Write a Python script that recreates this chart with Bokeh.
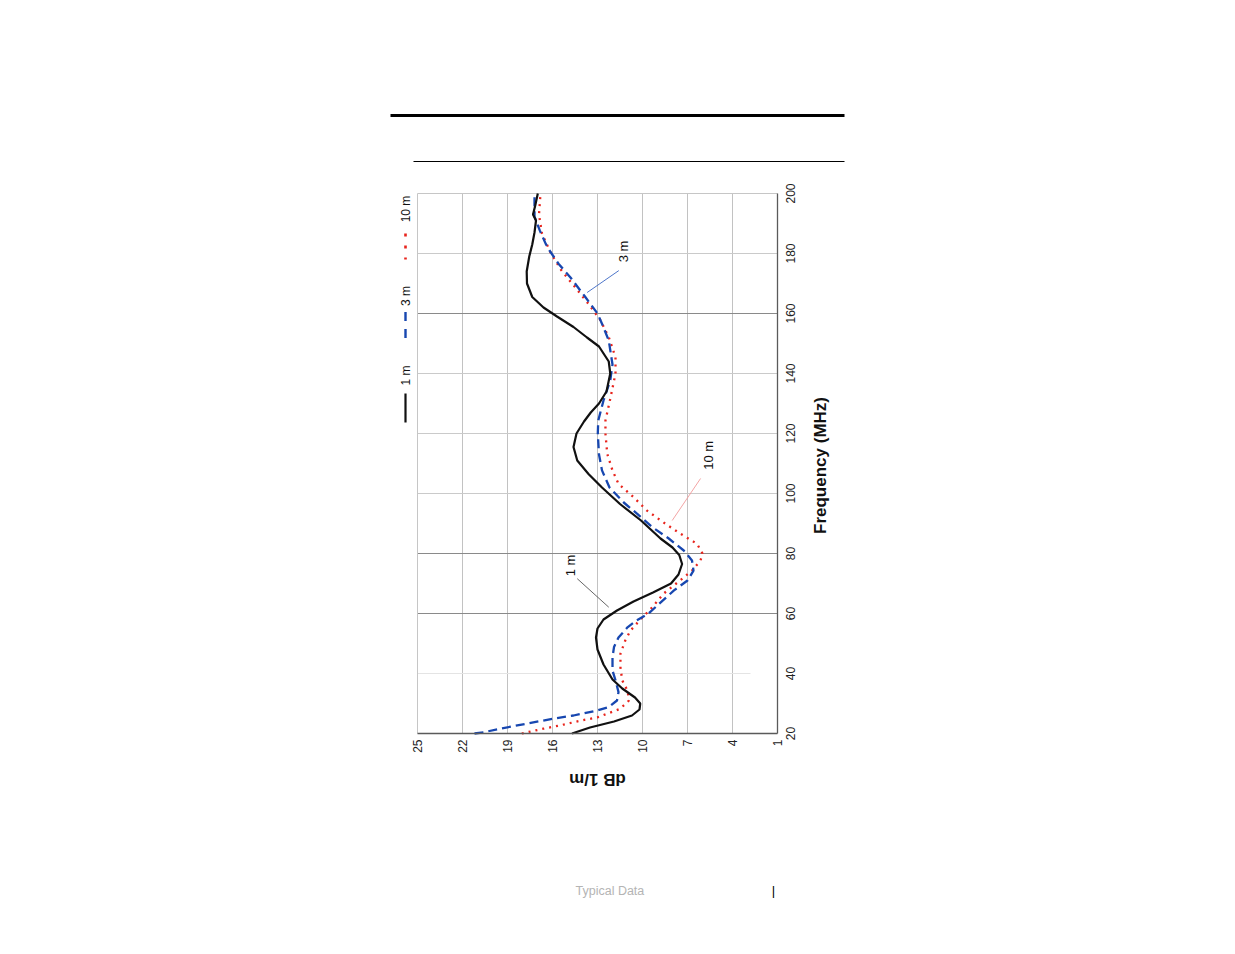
import math
from bokeh.plotting import figure
from bokeh.models import Range1d, FixedTicker, Label, LinearAxis
from bokeh.core.properties import value
from bokeh.embed import file_html
from bokeh.resources import INLINE

# ---------------- data (frequency in MHz, antenna factor in dB 1/m) ----------------
db_ticks = [25, 22, 19, 16, 13, 10, 7, 4, 1]
freq_ticks = [20, 40, 60, 80, 100, 120, 140, 160, 180, 200]

freq_1m = [20, 22, 24, 26, 28, 30, 32, 35, 38, 43, 48, 52, 55, 58, 61, 64, 67, 70, 73,
           76.5, 79.5, 82, 85, 91, 96.5, 102, 106.5, 111, 115.5, 120, 124, 127, 130, 134,
           140, 144, 149, 152, 155.5, 159, 162, 165.5, 170, 174, 179, 183, 187, 191, 193,
           196, 200]
db_1m = [14.7, 13.5, 11.9, 10.7, 10.2, 10.15, 10.5, 11.35, 12.0, 12.6, 13.0, 13.1, 13.0,
         12.6, 11.7, 10.6, 9.3, 8.1, 7.6, 7.36, 7.55, 8.0, 8.8, 10.1, 11.5, 12.7, 13.6,
         14.35, 14.6, 14.4, 13.9, 13.45, 12.9, 12.4, 12.15, 12.25, 12.9, 13.7, 14.6, 15.7,
         16.6, 17.35, 17.7, 17.72, 17.55, 17.35, 17.2, 17.1, 17.3, 17.15, 16.98]

freq_3m = [20, 20.4, 21.6, 23.3, 25, 26, 27.7, 28.8, 31, 33.8, 37.7, 41, 45.4, 48.8, 52,
           55.4, 57.7, 60, 63.2, 67.7, 71, 74.3, 77.7, 81, 85, 88.8, 93.2, 97, 102, 107.7,
           113, 120, 124.3, 131, 137.7, 143, 151, 156.6, 160, 165.4, 172, 176.6, 181, 183.2,
           187.7, 192.3, 200]
db_3m = [21.2, 20.6, 19.5, 17.7, 15.9, 14.6, 13.0, 12.25, 11.7, 11.6, 11.8, 12.0, 12.0,
         11.9, 11.6, 11.0, 10.4, 9.6, 8.9, 7.9, 7.0, 6.6, 6.7, 7.25, 8.25, 9.35, 10.35,
         11.25, 12.2, 12.7, 12.9, 12.98, 12.95, 12.6, 12.15, 12.0, 12.25, 12.7, 13.0, 13.8,
         14.8, 15.6, 16.2, 16.45, 16.85, 17.2, 17.2]

freq_10m = [20, 21.6, 22.7, 24.3, 25.4, 28.2, 31, 34.3, 37.7, 42, 46.6, 51, 54.3, 57.7, 62,
            66.6, 71, 74.3, 77.7, 80, 83.2, 86.6, 89.9, 94.3, 98.8, 103.2, 107.7, 113.2,
            120, 124.3, 132, 140, 145.4, 152, 157.7, 163.2, 168.8, 174.3, 180, 186.6, 193,
            200]
db_10m = [18.05, 16.6, 15.5, 14.1, 13.0, 11.5, 10.9, 11.0, 11.35, 11.47, 11.47, 11.15, 10.8,
          10.2, 9.36, 8.6, 7.5, 6.7, 6.13, 6.0, 6.36, 7.47, 8.47, 9.7, 10.6, 11.6, 12.0,
          12.35, 12.47, 12.47, 12.13, 11.8, 11.8, 12.24, 12.8, 13.6, 14.5, 15.4, 16.1, 16.7,
          16.9, 16.8]

series_names = ["1 m", "3 m", "10 m"]
series_colors = ["#111111", "#1747b0", "#e8241c"]

x_title = "Frequency (MHz)"
y_title = "dB 1/m"

light_grid_freqs = [100, 120, 140, 180]
dark_grid_freqs = [60, 80, 160]
faint_grid_freqs = [40]
faint_grid_end_db = 2.8

# ---------------- page geometry ----------------
W, H = 1230, 950
PLOT_L, PLOT_R, PLOT_T, PLOT_B = 417, 777, 193, 733   # chart area on the page (px)
DB_LO, DB_HI = db_ticks[-1], db_ticks[0]
F_LO, F_HI = freq_ticks[0], freq_ticks[-1]


def dbx(px):
    # page pixel column -> dB value
    return DB_HI - (px - PLOT_L) * (DB_HI - DB_LO) / (PLOT_R - PLOT_L)


def fy(py):
    # page pixel row -> MHz value
    return F_LO + (PLOT_B - py) * (F_HI - F_LO) / (PLOT_B - PLOT_T)


p = figure(width=W, height=H, output_backend="svg", toolbar_location=None, title=None,
           x_range=Range1d(dbx(0), dbx(W)), y_range=Range1d(fy(H), fy(0)),
           x_axis_location=None, y_axis_location=None, min_border=0)
p.min_border_left = 0
p.min_border_right = 0
p.min_border_top = 0
p.min_border_bottom = 0
p.background_fill_color = "white"
p.border_fill_color = "white"
p.outline_line_color = None
p.xgrid.visible = False
p.ygrid.visible = False

FONT = "Liberation Sans"


def style_axis(ax, standoff):
    ax.major_label_orientation = math.pi / 2
    ax.major_tick_out = 0
    ax.major_tick_in = 0
    ax.minor_tick_out = 0
    ax.minor_tick_in = 0
    ax.major_label_standoff = standoff
    ax.major_label_text_font = FONT
    ax.major_label_text_font_size = "12px"
    ax.major_label_text_color = "#222222"
    ax.axis_line_color = "#5a5a5a"
    ax.axis_line_width = 1.3


# dB axis: along the bottom of the chart area (at 20 MHz)
xa = LinearAxis(fixed_location=F_LO, bounds=(DB_LO, DB_HI), ticker=FixedTicker(ticks=db_ticks))
style_axis(xa, 6)
p.add_layout(xa, "below")

# frequency axis line: along the right of the chart area (at 1 dB);
# its rotated tick labels are centred on the ticks just below
ya = LinearAxis(fixed_location=DB_LO, bounds=(F_LO, F_HI), ticker=FixedTicker(ticks=[]))
style_axis(ya, 10)
p.add_layout(ya, "right")
p.text(x=[DB_LO] * len(freq_ticks), y=freq_ticks, text=[str(f) for f in freq_ticks],
       x_offset=13, angle=math.pi / 2, text_align="center", text_baseline="middle",
       text_font=value(FONT), text_font_size="12px", text_color="#222222")

# axis titles (rotated like the rest of the chart)
p.add_layout(Label(x=dbx(597), y=fy(778.5), text=y_title, angle=math.pi,
                   text_align="center", text_baseline="middle", text_font=FONT,
                   text_font_style="bold", text_font_size="17px", text_color="#111111"))
p.add_layout(Label(x=dbx(820), y=fy(465), text=x_title, angle=math.pi / 2,
                   text_align="center", text_baseline="middle", text_font=FONT,
                   text_font_style="bold", text_font_size="17px", text_color="#111111"))

# ---------------- grid and plot-area edges ----------------
inner_db = db_ticks[1:-1]
p.segment(x0=inner_db, y0=[F_LO] * len(inner_db), x1=inner_db, y1=[F_HI] * len(inner_db),
          line_color="#c2c2c2", line_width=1)
p.segment(x0=[DB_HI] * len(light_grid_freqs), y0=light_grid_freqs,
          x1=[DB_LO] * len(light_grid_freqs), y1=light_grid_freqs,
          line_color="#cacaca", line_width=1)
p.segment(x0=[DB_HI] * len(faint_grid_freqs), y0=faint_grid_freqs,
          x1=[faint_grid_end_db] * len(faint_grid_freqs), y1=faint_grid_freqs,
          line_color="#e4e4e4", line_width=1)
p.segment(x0=[DB_HI] * len(dark_grid_freqs), y0=dark_grid_freqs,
          x1=[DB_LO] * len(dark_grid_freqs), y1=dark_grid_freqs,
          line_color="#8a8a8a", line_width=1)
# left (25 dB) and top (200 MHz) edges of the plot area
p.segment(x0=[DB_HI, DB_HI], y0=[F_LO, F_HI], x1=[DB_HI, DB_LO], y1=[F_HI, F_HI],
          line_color="#c6c6c6", line_width=1)

# ---------------- series ----------------
p.line(db_10m, freq_10m, line_color=series_colors[2], line_width=2.3, line_dash="2 5")
p.line(db_3m, freq_3m, line_color=series_colors[1], line_width=2.3, line_dash="9 5")
p.line(db_1m, freq_1m, line_color=series_colors[0], line_width=2.2)

# ---------------- in-plot annotations ----------------
# (text, dB, MHz, leader from (dB, MHz) to (dB, MHz), leader colour)
notes = [
    ("1 m", 14.8, 76.0, (14.35, 71.6), (12.25, 62.1), "#555555"),
    ("10 m", 5.6, 112.7, (6.13, 105.0), (8.02, 91.0), "#f29a9a"),
    ("3 m", 11.27, 180.7, (11.58, 174.3), (13.69, 167.0), "#3a66c4"),
]
for txt, nx, ny, a, b, col in notes:
    p.add_layout(Label(x=nx, y=ny, text=txt, angle=math.pi / 2, text_align="center",
                       text_baseline="middle", text_font=FONT, text_font_size="13px",
                       text_color="#111111"))
    p.segment(x0=[a[0]], y0=[a[1]], x1=[b[0]], y1=[b[1]], line_color=col, line_width=0.9)

# ---------------- legend (rotated, left of the plot) ----------------
lx = dbx(405)
legend_items = [
    (fy(375), fy(393), fy(422), "solid", 2.2),
    (fy(295.5), fy(311.5), fy(338.5), "9 8", 2.4),
    (fy(208.5), fy(233), fy(259), "3 9", 2.6),
]
for name, (ty, y0, y1, dash, lw), col in zip(series_names, legend_items, series_colors):
    p.add_layout(Label(x=lx, y=ty, text=name, angle=math.pi / 2, text_align="center",
                       text_baseline="middle", text_font=FONT, text_font_size="12px",
                       text_color="#111111"))
    p.segment(x0=[lx], y0=[y0], x1=[lx], y1=[y1], line_color=col, line_width=lw,
              line_dash=dash)

# ---------------- page decorations ----------------
p.segment(x0=[dbx(390)], y0=[fy(115)], x1=[dbx(844)], y1=[fy(115)],
          line_color="#000000", line_width=3)
p.segment(x0=[dbx(413)], y0=[fy(161)], x1=[dbx(844)], y1=[fy(161)],
          line_color="#000000", line_width=1.2)
p.add_layout(Label(x=dbx(575), y=fy(890), text="Typical Data", text_align="left",
                   text_baseline="middle", text_font=FONT, text_font_size="12.5px",
                   text_color="#b4b4b4"))
p.add_layout(Label(x=dbx(773), y=fy(890), text="|", text_align="center",
                   text_baseline="middle", text_font=FONT, text_font_size="13px",
                   text_color="#000000"))

open("out.html", "w").write(file_html(p, INLINE))
